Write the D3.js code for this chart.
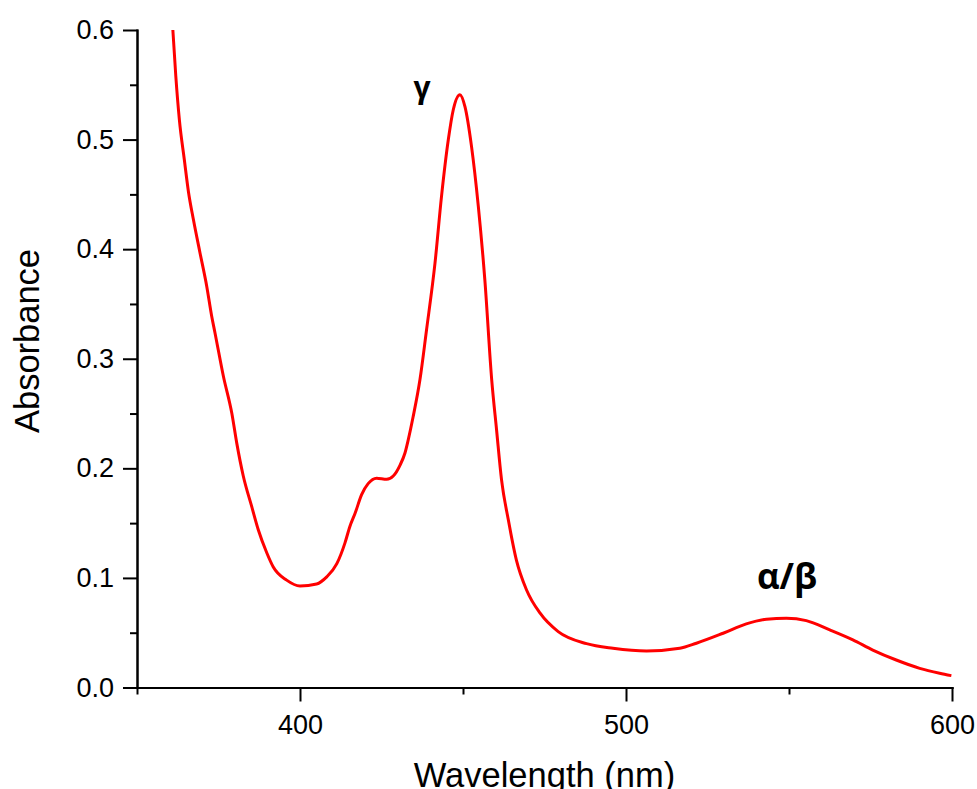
<!DOCTYPE html>
<html>
  <head>
    <style>
      body { margin: 0; background: #fff; }
      .axis path, .axis line { stroke: #000; stroke-width: 2px; }
      .axis text { font-family: "Liberation Sans", Arial, sans-serif; font-size: 27px; fill: #000; }
      .label { font-family: "Liberation Sans", Arial, sans-serif; font-size: 34.5px; }
      .peak { font-family: "Open Sans", sans-serif; font-weight: bold; }
      .spectrum { fill: none; stroke: #ff0000; stroke-width: 3px; stroke-linejoin: round; }
    </style>
  </head>
  <body>
    <svg width="977" height="789"></svg>
    <script src="https://d3js.org/d3.v7.min.js"></script>
    <script>
      // wavelength (nm) and absorbance
      var wavelength = [361.0, 361.9, 363.0, 364.5, 365.8, 367.3, 369.3, 371.4, 372.9, 373.9,
        376.5, 379.1, 380.6, 382.6, 385.2, 387.2, 389.8, 391.8, 395.9, 400.0,
        405.1, 408.2, 411.3, 413.8, 415.3, 416.9, 418.9, 420.9, 423.5, 426.6,
        428.6, 430.7, 432.2, 433.2, 434.7, 436.8, 438.8, 441.4, 443.4, 445.5,
        447.0, 449.05, 450.6, 452.6, 454.7, 456.7, 458.8, 460.3, 461.8, 463.9,
        466.4, 469.5, 473.6, 479.2, 487.9, 496.0, 506.3, 516.5, 521.6, 529.8,
        536.9, 543.1, 549.2, 555.3, 562.5, 569.6, 575.7, 582.9, 590.1, 596.2, 599.8];
      var absorbance = [0.600, 0.558, 0.518, 0.482, 0.452, 0.427, 0.397, 0.366, 0.339, 0.324,
        0.284, 0.250, 0.223, 0.193, 0.165, 0.144, 0.123, 0.110, 0.098, 0.0927,
        0.0945, 0.101, 0.113, 0.132, 0.147, 0.159, 0.176, 0.186, 0.191, 0.190,
        0.193, 0.203, 0.214, 0.226, 0.247, 0.281, 0.326, 0.387, 0.448, 0.500,
        0.527, 0.541, 0.530, 0.494, 0.439, 0.372, 0.281, 0.235, 0.190, 0.153,
        0.116, 0.089, 0.068, 0.051, 0.040, 0.0358, 0.0333, 0.0358, 0.0404, 0.0495,
        0.058, 0.0623, 0.0632, 0.061, 0.0525, 0.0434, 0.0342, 0.0251, 0.0175, 0.013, 0.0108];

      var xMajor = [400, 500, 600];
      var xMinor = [350, 450, 550];
      var yMajor = [0.0, 0.1, 0.2, 0.3, 0.4, 0.5, 0.6];
      var yMinor = [0.05, 0.15, 0.25, 0.35, 0.45, 0.55];

      var peaks = [
        { text: "γ", wl: 437.4, abs: 0.538, size: 30 },
        { text: "α/β", wl: 549.4, abs: 0.090, size: 35 }
      ];

      var svg = d3.select("svg");
      var margin = { left: 137, right: 25, top: 30, bottom: 101.5 };
      var width = +svg.attr("width"), height = +svg.attr("height");

      var x = d3.scaleLinear()
        .domain([350, 600])
        .range([margin.left, width - margin.right]);
      var y = d3.scaleLinear()
        .domain([0, 0.6])
        .range([height - margin.bottom, margin.top]);

      var data = wavelength.map(function(w, i) { return [w, absorbance[i]]; });

      // minor ticks first, then majors with labels
      svg.append("g")
          .attr("class", "axis")
          .attr("transform", "translate(0," + y(0) + ")")
          .call(d3.axisBottom(x).tickValues(xMinor).tickSize(7).tickFormat("").tickSizeOuter(0));
      svg.append("g")
          .attr("class", "axis")
          .attr("transform", "translate(0," + y(0) + ")")
          .call(d3.axisBottom(x).tickValues(xMajor).tickSize(14).tickPadding(13).tickSizeOuter(0));

      svg.append("g")
          .attr("class", "axis")
          .attr("transform", "translate(" + x(350) + ",0)")
          .call(d3.axisLeft(y).tickValues(yMinor).tickSize(7).tickFormat("").tickSizeOuter(0));
      svg.append("g")
          .attr("class", "axis")
          .attr("transform", "translate(" + x(350) + ",0)")
          .call(d3.axisLeft(y).tickValues(yMajor).tickSize(14).tickPadding(9)
            .tickFormat(d3.format(".1f")).tickSizeOuter(0));

      svg.selectAll(".domain").attr("stroke-linecap", "square");

      var line = d3.line()
        .x(function(d) { return x(d[0]); })
        .y(function(d) { return y(d[1]); })
        .curve(d3.curveMonotoneX);

      svg.append("path")
          .datum(data)
          .attr("class", "spectrum")
          .attr("d", line);

      svg.selectAll(".peak")
        .data(peaks)
        .enter().append("text")
          .attr("class", "peak")
          .attr("text-anchor", "middle")
          .attr("font-size", function(d) { return d.size + "px"; })
          .attr("x", function(d) { return x(d.wl); })
          .attr("y", function(d) { return y(d.abs); })
          .text(function(d) { return d.text; });

      svg.append("text")
          .attr("class", "label")
          .attr("text-anchor", "middle")
          .attr("x", (x.range()[0] + x.range()[1]) / 2)
          .attr("y", 787)
          .text("Wavelength (nm)");

      svg.append("text")
          .attr("class", "label")
          .attr("text-anchor", "middle")
          .attr("transform", "translate(39,341) rotate(-90)")
          .text("Absorbance");
    </script>
  </body>
</html>
